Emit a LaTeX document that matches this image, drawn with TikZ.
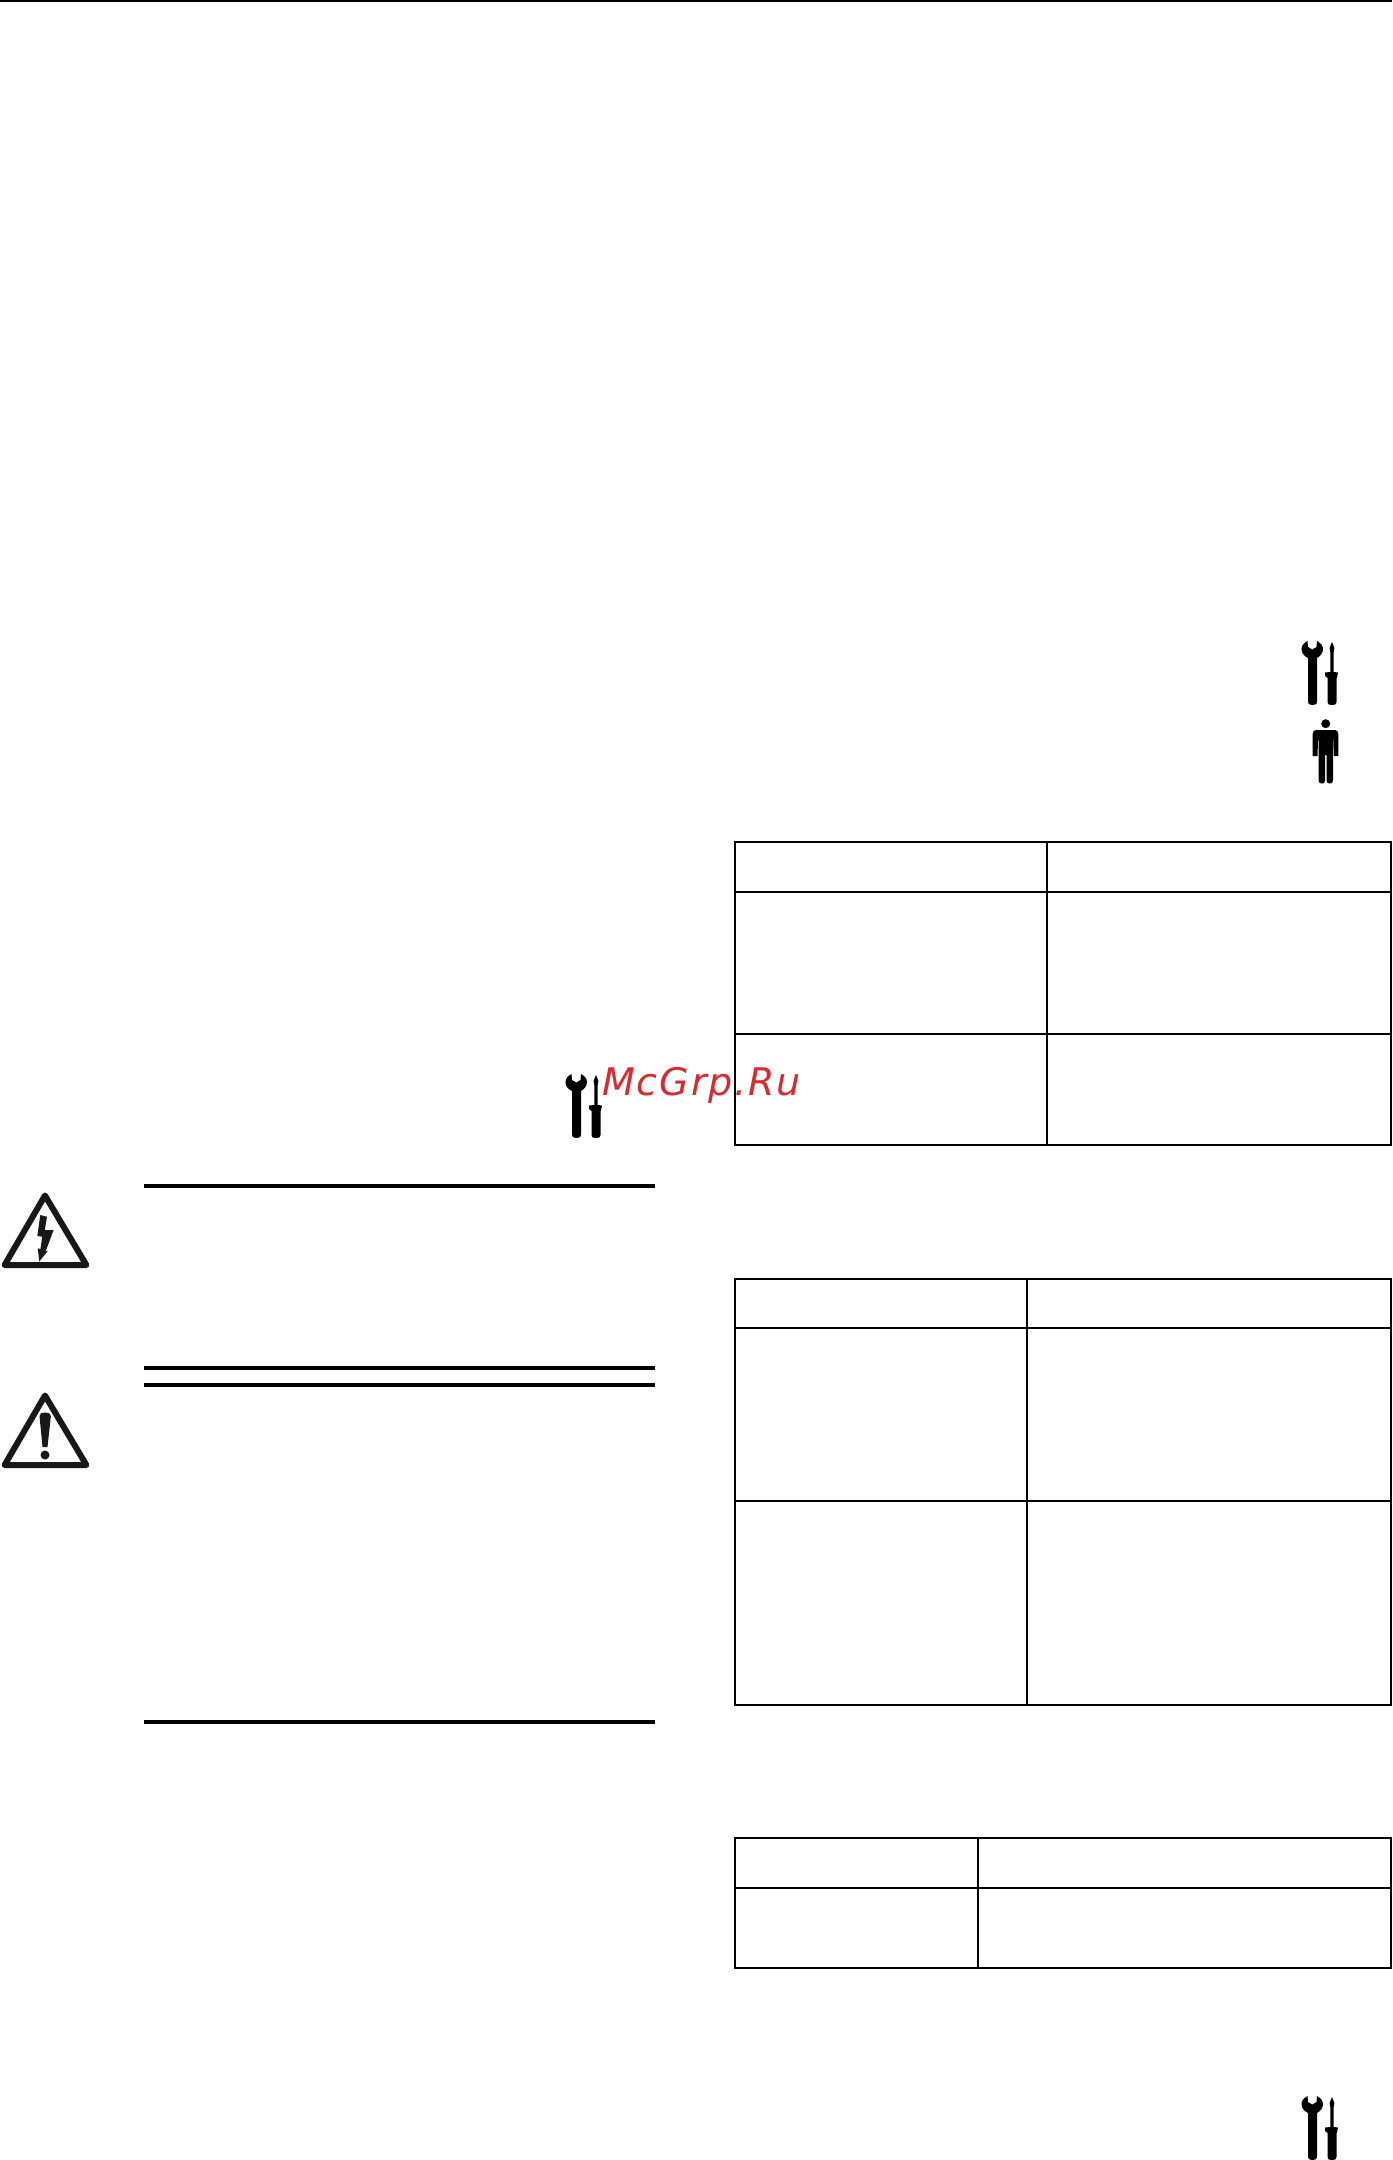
\documentclass[tikz,border=0pt]{standalone}
\usepackage{fontspec}
\newfontfamily\wmfont[LetterSpace=5]{DejaVu Sans}
\definecolor{wmred}{HTML}{D92B2F}
\definecolor{signink}{HTML}{1A1718}
\tikzset{
  rulebar/.style={line width=4pt,black},
  tableline/.style={line width=2pt,black},
  iconfill/.style={fill=black,draw=none},
  signedge/.style={draw=signink,line width=6pt,line join=round},
  signfill/.style={fill=signink,draw=none},
  wmtext/.style={text=wmred,inner sep=0pt,anchor=base west,font=\wmfont\itshape\fontsize{38}{38}\selectfont}
}
\newcommand{\toolsicon}[2]{%
  \begin{scope}[shift={(#1,#2)}]
    % wrench
    \fill[iconfill,even odd rule] (1307.5,641) .. controls (1303.5,643) and (1301.5,646) .. (1301.5,649)
      .. controls (1301.5,653) and (1304,656) .. (1308,658) -- (1308,701)
      .. controls (1308,704.5) and (1310,705) .. (1312.5,705)
      .. controls (1315,705) and (1317,704.5) .. (1317,701) -- (1317,658)
      .. controls (1320.5,656) and (1323,653) .. (1323,649)
      .. controls (1323,646) and (1321,643) .. (1317,641)
      -- (1316.5,647) -- (1312.3,649.5) -- (1308,647) -- cycle;
    % screwdriver
    \fill[iconfill] (1332,642) -- (1334.4,648) -- (1333.7,652) -- (1333.7,672) -- (1338,672.5) -- (1337,677.5) -- (1336.5,678)
      -- (1336.5,702) .. controls (1336.5,704.5) and (1335,705) .. (1332,705)
      .. controls (1329,705) and (1327.5,704.5) .. (1327.5,702) -- (1327.5,678) -- (1325,676) -- (1325,672.5) -- (1330.3,672)
      -- (1330.3,652) -- (1329.6,648) -- cycle;
  \end{scope}}
\begin{document}
\begin{tikzpicture}[x=1pt,y=-1pt]
\useasboundingbox (0,0) rectangle (1392,2160);
\fill[white] (0,0) rectangle (1392,2160);
% top rule
\draw[line width=2pt] (0,1) -- (1392,1);
% warning rules
\draw[rulebar] (144,1186) -- (655,1186);
\draw[rulebar] (144,1368) -- (655,1368);
\draw[rulebar] (144,1385) -- (655,1385);
\draw[rulebar] (144,1722) -- (655,1722);
% tables
\draw[tableline] (735,842) rectangle (1390.5,1145);
\draw[tableline] (735,892) -- (1390.5,892);
\draw[tableline] (735,1034) -- (1390.5,1034);
\draw[tableline] (1047,842) -- (1047,1145);
\draw[tableline] (735,1279) rectangle (1390.5,1705);
\draw[tableline] (735,1328) -- (1390.5,1328);
\draw[tableline] (735,1501) -- (1390.5,1501);
\draw[tableline] (1026.7,1279) -- (1026.7,1705);
\draw[tableline] (735,1838) rectangle (1390.5,1968);
\draw[tableline] (735,1888) -- (1390.5,1888);
\draw[tableline] (978.3,1838) -- (978.3,1968);
% tool icons
\toolsicon{0}{0}
\toolsicon{0}{1455}
\toolsicon{-736}{433}
% person icon
\fill[iconfill] (1325.7,723.7) circle (4.5);
\fill[iconfill] (1316,730) .. controls (1314,730) and (1312.7,731.5) .. (1312.7,734) -- (1312.7,756) -- (1317.5,756) -- (1318,740)
  -- (1318.5,740) -- (1318.5,780) .. controls (1318.5,783) and (1320,783.5) .. (1322,783.5)
  .. controls (1324,783.5) and (1325,783) .. (1325,780) -- (1325,755) -- (1326.5,755) -- (1326.5,780)
  .. controls (1326.5,783) and (1328,783.5) .. (1329.7,783.5)
  .. controls (1332,783.5) and (1333,783) .. (1333,780) -- (1333,740) -- (1333.5,740) -- (1334,756) -- (1338.3,756) -- (1338.3,734)
  .. controls (1338.3,731.5) and (1337,730) .. (1335,730) -- cycle;
% high voltage sign
\draw[signedge] (45,1195.5) -- (4.6,1265) -- (86.4,1265) -- cycle;
\fill[signfill] (40.3,1215) -- (47,1216.7) -- (44.8,1230) -- (53.6,1230) -- (45.5,1251.7) -- (48,1250.7) -- (39.3,1261.5)
  -- (37.8,1248.3) -- (40.5,1249) -- (42.2,1236.7) -- (37.3,1236) -- cycle;
% caution sign
\draw[signedge] (45,1395.5) -- (4.6,1465) -- (86.4,1465) -- cycle;
\fill[signfill] (39.5,1416) .. controls (39.5,1413) and (42,1412.5) .. (45,1412.5)
  .. controls (48,1412.5) and (50.9,1413) .. (50.9,1416) -- (47.5,1447) -- (42.5,1447) -- cycle;
\fill[signfill] (45,1455) circle (4.5);
% watermark
\node[wmtext] (watermark) at (602,1095) {McGrp.Ru};
\end{tikzpicture}
\end{document}
